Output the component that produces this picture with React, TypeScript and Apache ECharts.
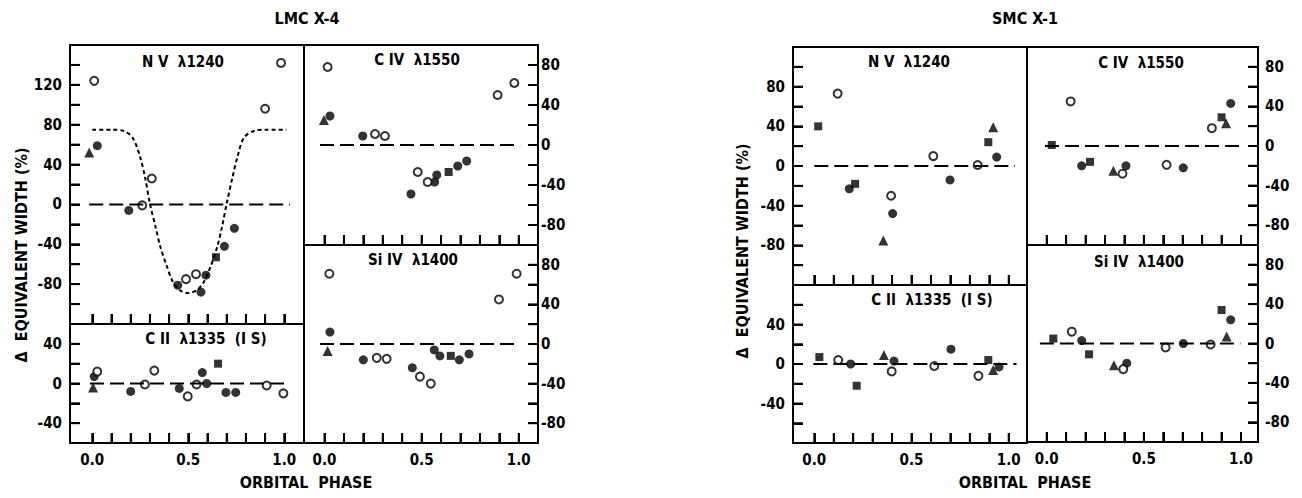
import React, { useEffect, useRef } from "react";
import * as echarts from "echarts";

type P = [number, number];

// ---------- LMC X-4 ----------
const lmcNvFilled: P[] = [[0.026, 59], [0.19, -6], [0.445, -81], [0.566, -88], [0.592, -71], [0.688, -42], [0.74, -24]];
const lmcNvOpen: P[] = [[0.01, 124], [0.26, -1], [0.31, 26], [0.488, -75], [0.54, -70], [0.9, 96], [0.983, 142]];
const lmcNvTri: P[] = [[-0.016, 52]];
const lmcNvSq: P[] = [[0.644, -53]];
const lmcNvModel: P[] = [
  [0.0, 75], [0.1, 75], [0.16, 74], [0.21, 67], [0.25, 47], [0.275, 27], [0.3, 1], [0.33, -23],
  [0.355, -43], [0.39, -63], [0.42, -78], [0.455, -86], [0.5, -89], [0.545, -86], [0.58, -78],
  [0.615, -63], [0.65, -43], [0.675, -23], [0.7, 1], [0.73, 27], [0.755, 47], [0.79, 67],
  [0.845, 74], [0.9, 75], [1.01, 75],
];

const lmcCiiFilled: P[] = [[0.01, 7], [0.2, -8], [0.453, -5], [0.573, 11], [0.596, 0], [0.696, -9], [0.747, -9]];
const lmcCiiOpen: P[] = [[0.026, 12], [0.274, -1], [0.323, 13], [0.497, -13], [0.543, -1], [0.908, -2], [0.995, -10]];
const lmcCiiTri: P[] = [[0.004, -4]];
const lmcCiiSq: P[] = [[0.655, 20]];

const lmcCivFilled: P[] = [[0.028, 29], [0.197, 9], [0.445, -49], [0.567, -37], [0.578, -30], [0.686, -21], [0.732, -16]];
const lmcCivOpen: P[] = [[0.016, 78], [0.26, 11], [0.311, 9], [0.48, -27], [0.531, -37], [0.891, 50], [0.977, 62]];
const lmcCivTri: P[] = [[-0.003, 25]];
const lmcCivSq: P[] = [[0.639, -27]];

const lmcSivFilled: P[] = [[0.028, 12], [0.2, -16], [0.452, -24], [0.565, -6], [0.594, -12], [0.694, -16], [0.744, -10]];
const lmcSivOpen: P[] = [[0.025, 71], [0.269, -14], [0.32, -15], [0.491, -33], [0.547, -40], [0.898, 45], [0.989, 71]];
const lmcSivTri: P[] = [[0.016, -7]];
const lmcSivSq: P[] = [[0.65, -12]];

// ---------- SMC X-1 ----------
const smcNvFilled: P[] = [[0.18, -23], [0.403, -48], [0.698, -14], [0.938, 9]];
const smcNvOpen: P[] = [[0.12, 73], [0.395, -30], [0.612, 10], [0.84, 1]];
const smcNvTri: P[] = [[0.355, -75], [0.92, 39]];
const smcNvSq: P[] = [[0.02, 40], [0.21, -18], [0.895, 24]];

const smcCiiFilled: P[] = [[0.187, 0], [0.41, 3], [0.703, 15], [0.95, -3]];
const smcCiiOpen: P[] = [[0.123, 4], [0.398, -7.5], [0.617, -2], [0.844, -12]];
const smcCiiTri: P[] = [[0.358, 9], [0.92, -6]];
const smcCiiSq: P[] = [[0.026, 7], [0.218, -22], [0.895, 4]];

const smcCivFilled: P[] = [[0.18, -20], [0.408, -20], [0.703, -22], [0.947, 43]];
const smcCivOpen: P[] = [[0.123, 45], [0.39, -28], [0.617, -19], [0.85, 18]];
const smcCivTri: P[] = [[0.343, -25], [0.923, 23]];
const smcCivSq: P[] = [[0.026, 1], [0.223, -16], [0.9, 29]];

const smcSivFilled: P[] = [[0.18, 3], [0.412, -20], [0.703, 0], [0.947, 24]];
const smcSivOpen: P[] = [[0.129, 12], [0.394, -26], [0.612, -4], [0.844, -1]];
const smcSivTri: P[] = [[0.346, -22], [0.926, 7]];
const smcSivSq: P[] = [[0.034, 5], [0.218, -11], [0.9, 34]];

// ---------- Axis ticks ----------
const phaseTicks = [0, 0.1, 0.2, 0.3, 0.4, 0.5, 0.6, 0.7, 0.8, 0.9, 1.0];
const phaseLabels = [0, 0.5, 1.0];
const yTicksNvLmc = [-100, -80, -60, -40, -20, 0, 20, 40, 60, 80, 100, 120, 140];
const yLabelsNvLmc = [-80, -40, 0, 40, 80, 120];
const yTicksCiiLmc = [-40, -20, 0, 20, 40];
const yLabelsCiiLmc = [-40, 0, 40];
const yTicks100 = [-80, -60, -40, -20, 0, 20, 40, 60, 80];
const yLabels100 = [-80, -40, 0, 40, 80];
const yTicksNvSmc = [-100, -80, -60, -40, -20, 0, 20, 40, 60, 80, 100];
const yLabelsNvSmc = [-80, -40, 0, 40, 80];
const yTicksCiiSmc = [-60, -40, -20, 0, 20, 40, 60];
const yLabelsCiiSmc = [-40, 0, 40];

const FONT = "'DejaVu Sans Condensed', 'DejaVu Sans', sans-serif";
const TICK_LEN = 10;
const INK = "#000";

interface Panel {
  rect: [number, number, number, number];
  x: [number, number];
  y: [number, number];
  yTicks: number[];
  yLabels: number[];
  ySide: "left" | "right";
  yMargin: number;
  xLabels: boolean;
  zero: [number, number];
  filled: P[];
  open: P[];
  tri: P[];
  sq: P[];
  curve?: P[];
}

const panels: Panel[] = [
  { rect: [70, 45, 234, 279], x: [-0.1161, 1.1026], y: [-120, 160], yTicks: yTicksNvLmc, yLabels: yLabelsNvLmc, ySide: "left", yMargin: 8, xLabels: false, zero: [-0.016, 1.03], filled: lmcNvFilled, open: lmcNvOpen, tri: lmcNvTri, sq: lmcNvSq, curve: lmcNvModel },
  { rect: [70, 324, 234, 119], x: [-0.1161, 1.1026], y: [-60, 60], yTicks: yTicksCiiLmc, yLabels: yLabelsCiiLmc, ySide: "left", yMargin: 8, xLabels: true, zero: [-0.012, 1.03], filled: lmcCiiFilled, open: lmcCiiOpen, tri: lmcCiiTri, sq: lmcCiiSq },
  { rect: [304, 45, 234, 200], x: [-0.1055, 1.099], y: [-100, 100], yTicks: yTicks100, yLabels: yLabels100, ySide: "right", yMargin: 3, xLabels: false, zero: [-0.023, 1.007], filled: lmcCivFilled, open: lmcCivOpen, tri: lmcCivTri, sq: lmcCivSq },
  { rect: [304, 245, 234, 198], x: [-0.1055, 1.099], y: [-100, 100], yTicks: yTicks100, yLabels: yLabels100, ySide: "right", yMargin: 3, xLabels: true, zero: [-0.023, 0.99], filled: lmcSivFilled, open: lmcSivOpen, tri: lmcSivTri, sq: lmcSivSq },
  { rect: [793, 47, 234, 238], x: [-0.1096, 1.094], y: [-120, 120], yTicks: yTicksNvSmc, yLabels: yLabelsNvSmc, ySide: "left", yMargin: 8, xLabels: false, zero: [0.0, 1.032], filled: smcNvFilled, open: smcNvOpen, tri: smcNvTri, sq: smcNvSq },
  { rect: [793, 285, 234, 158], x: [-0.1096, 1.094], y: [-80, 80], yTicks: yTicksCiiSmc, yLabels: yLabelsCiiSmc, ySide: "left", yMargin: 8, xLabels: true, zero: [-0.005, 1.04], filled: smcCiiFilled, open: smcCiiOpen, tri: smcCiiTri, sq: smcCiiSq },
  { rect: [1027, 47, 231, 198], x: [-0.1014, 1.0875], y: [-100, 100], yTicks: yTicks100, yLabels: yLabels100, ySide: "right", yMargin: 7, xLabels: false, zero: [-0.009, 1.0035], filled: smcCivFilled, open: smcCivOpen, tri: smcCivTri, sq: smcCivSq },
  { rect: [1027, 245, 231, 197], x: [-0.1014, 1.0875], y: [-100, 100], yTicks: yTicks100, yLabels: yLabels100, ySide: "right", yMargin: 7, xLabels: true, zero: [-0.035, 0.997], filled: smcSivFilled, open: smcSivOpen, tri: smcSivTri, sq: smcSivSq },
];

const panelTitles: [string, number, number][] = [
  ["N V  λ1240", 183, 62],
  ["C II  λ1335  (I S)", 206, 339],
  ["C IV  λ1550", 417, 60],
  ["Si IV  λ1400", 413, 260],
  ["N V  λ1240", 909, 62],
  ["C II  λ1335  (I S)", 932, 300],
  ["C IV  λ1550", 1141, 63],
  ["Si IV  λ1400", 1139, 262],
];

// tick kinds: 0 = bottom edge (points up), 1 = left edge (points right), 2 = right edge (points left)
function tickRenderItem(params: any, api: any) {
  const xv = api.value(0);
  const yv = api.value(1);
  const kind = api.value(2);
  const pt = api.coord([xv, yv]);
  let x2 = pt[0];
  let y2 = pt[1];
  if (kind === 0) y2 -= TICK_LEN;
  else if (kind === 1) x2 += TICK_LEN;
  else x2 -= TICK_LEN;
  return {
    type: "line",
    shape: { x1: pt[0], y1: pt[1], x2, y2 },
    style: { stroke: INK, lineWidth: 2 },
  };
}

function buildOption() {
  const grid: any[] = [];
  const xAxis: any[] = [];
  const yAxis: any[] = [];
  const series: any[] = [];
  panels.forEach((p, i) => {
    grid.push({
      left: p.rect[0], top: p.rect[1], width: p.rect[2], height: p.rect[3],
      show: true, borderColor: INK, borderWidth: 2,
    });
    xAxis.push({
      type: "value", gridIndex: i, min: p.x[0], max: p.x[1],
      axisLine: { show: true, onZero: false, lineStyle: { color: INK, width: 2 } },
      splitLine: { show: false },
      axisTick: { show: true, inside: true, length: TICK_LEN, customValues: phaseTicks, lineStyle: { color: INK, width: 2 } },
      axisLabel: {
        show: p.xLabels, customValues: phaseLabels, margin: 9,
        formatter: (v: number) => v.toFixed(1),
        color: INK, fontFamily: FONT, fontWeight: "bold", fontSize: 15,
      },
    });
    yAxis.push({
      type: "value", gridIndex: i, min: p.y[0], max: p.y[1], position: p.ySide,
      axisLine: { show: true, onZero: false, lineStyle: { color: INK, width: 2 } },
      splitLine: { show: false },
      axisTick: { show: true, inside: true, length: TICK_LEN, customValues: p.yTicks, lineStyle: { color: INK, width: 2 } },
      axisLabel: {
        show: true, customValues: p.yLabels, margin: p.yMargin,
        formatter: (v: number) => String(v),
        color: INK, fontFamily: FONT, fontWeight: "bold", fontSize: 15,
      },
    });

    const xEdge = p.ySide === "left" ? p.x[0] : p.x[1];
    const tickData: number[][] = [];
    phaseTicks.forEach((t) => tickData.push([t, p.y[0], 0]));
    p.yTicks.forEach((t) => tickData.push([xEdge, t, p.ySide === "left" ? 1 : 2]));
    series.push({
      type: "custom", xAxisIndex: i, yAxisIndex: i, clip: false, silent: true, z: 10,
      renderItem: tickRenderItem,
      data: tickData,
      encode: { x: 0, y: 1 },
    });

    series.push({
      type: "line", xAxisIndex: i, yAxisIndex: i, symbol: "none",
      data: [[p.zero[0], 0], [p.zero[1], 0]],
      lineStyle: { color: INK, width: 2, type: [14, 6] },
    });
    if (p.curve) {
      series.push({
        type: "line", xAxisIndex: i, yAxisIndex: i, symbol: "none", smooth: 0.3,
        data: p.curve,
        lineStyle: { color: INK, width: 2, type: [4, 3] },
      });
    }
    series.push({
      type: "scatter", xAxisIndex: i, yAxisIndex: i, symbol: "circle", symbolSize: 9,
      data: p.filled, itemStyle: { color: INK },
    });
    series.push({
      type: "scatter", xAxisIndex: i, yAxisIndex: i, symbol: "circle", symbolSize: 8,
      data: p.open, itemStyle: { color: "#fff", borderColor: INK, borderWidth: 2 },
    });
    series.push({
      type: "scatter", xAxisIndex: i, yAxisIndex: i, symbol: "triangle", symbolSize: 10,
      data: p.tri, itemStyle: { color: INK },
    });
    series.push({
      type: "scatter", xAxisIndex: i, yAxisIndex: i, symbol: "rect", symbolSize: 8,
      data: p.sq, itemStyle: { color: INK },
    });
  });

  const textStyle = (size: number) => ({ fill: INK, fontFamily: FONT, fontWeight: "bold", fontSize: size });
  const center = { textAlign: "center", textVerticalAlign: "middle" };
  const graphic: any[] = [
    { type: "text", x: 307, y: 18, style: { text: "LMC X-4", ...textStyle(16), ...center } },
    { type: "text", x: 1025, y: 18, style: { text: "SMC X-1", ...textStyle(16), ...center } },
    { type: "text", x: 306, y: 482, style: { text: "ORBITAL  PHASE", ...textStyle(16), ...center } },
    { type: "text", x: 1025, y: 482, style: { text: "ORBITAL  PHASE", ...textStyle(16), ...center } },
    { type: "text", x: 21, y: 255, rotation: Math.PI / 2, style: { text: "Δ  EQUIVALENT WIDTH (%)", ...textStyle(16), ...center } },
    { type: "text", x: 742, y: 251, rotation: Math.PI / 2, style: { text: "Δ  EQUIVALENT WIDTH (%)", ...textStyle(16), ...center } },
  ];
  panelTitles.forEach(([t, x, y]) => {
    graphic.push({ type: "text", x, y, style: { text: t, ...textStyle(15), ...center } });
  });

  return { animation: false, grid, xAxis, yAxis, series, graphic };
}

export default function App() {
  const ref = useRef<HTMLDivElement>(null);
  useEffect(() => {
    if (!ref.current) return;
    const chart = echarts.init(ref.current, undefined, { renderer: "svg" });
    chart.setOption(buildOption());
    return () => chart.dispose();
  }, []);
  return (
    <div
      ref={ref}
      style={{ position: "fixed", left: 0, top: 0, width: 1302, height: 498, background: "#fff" }}
    />
  );
}
